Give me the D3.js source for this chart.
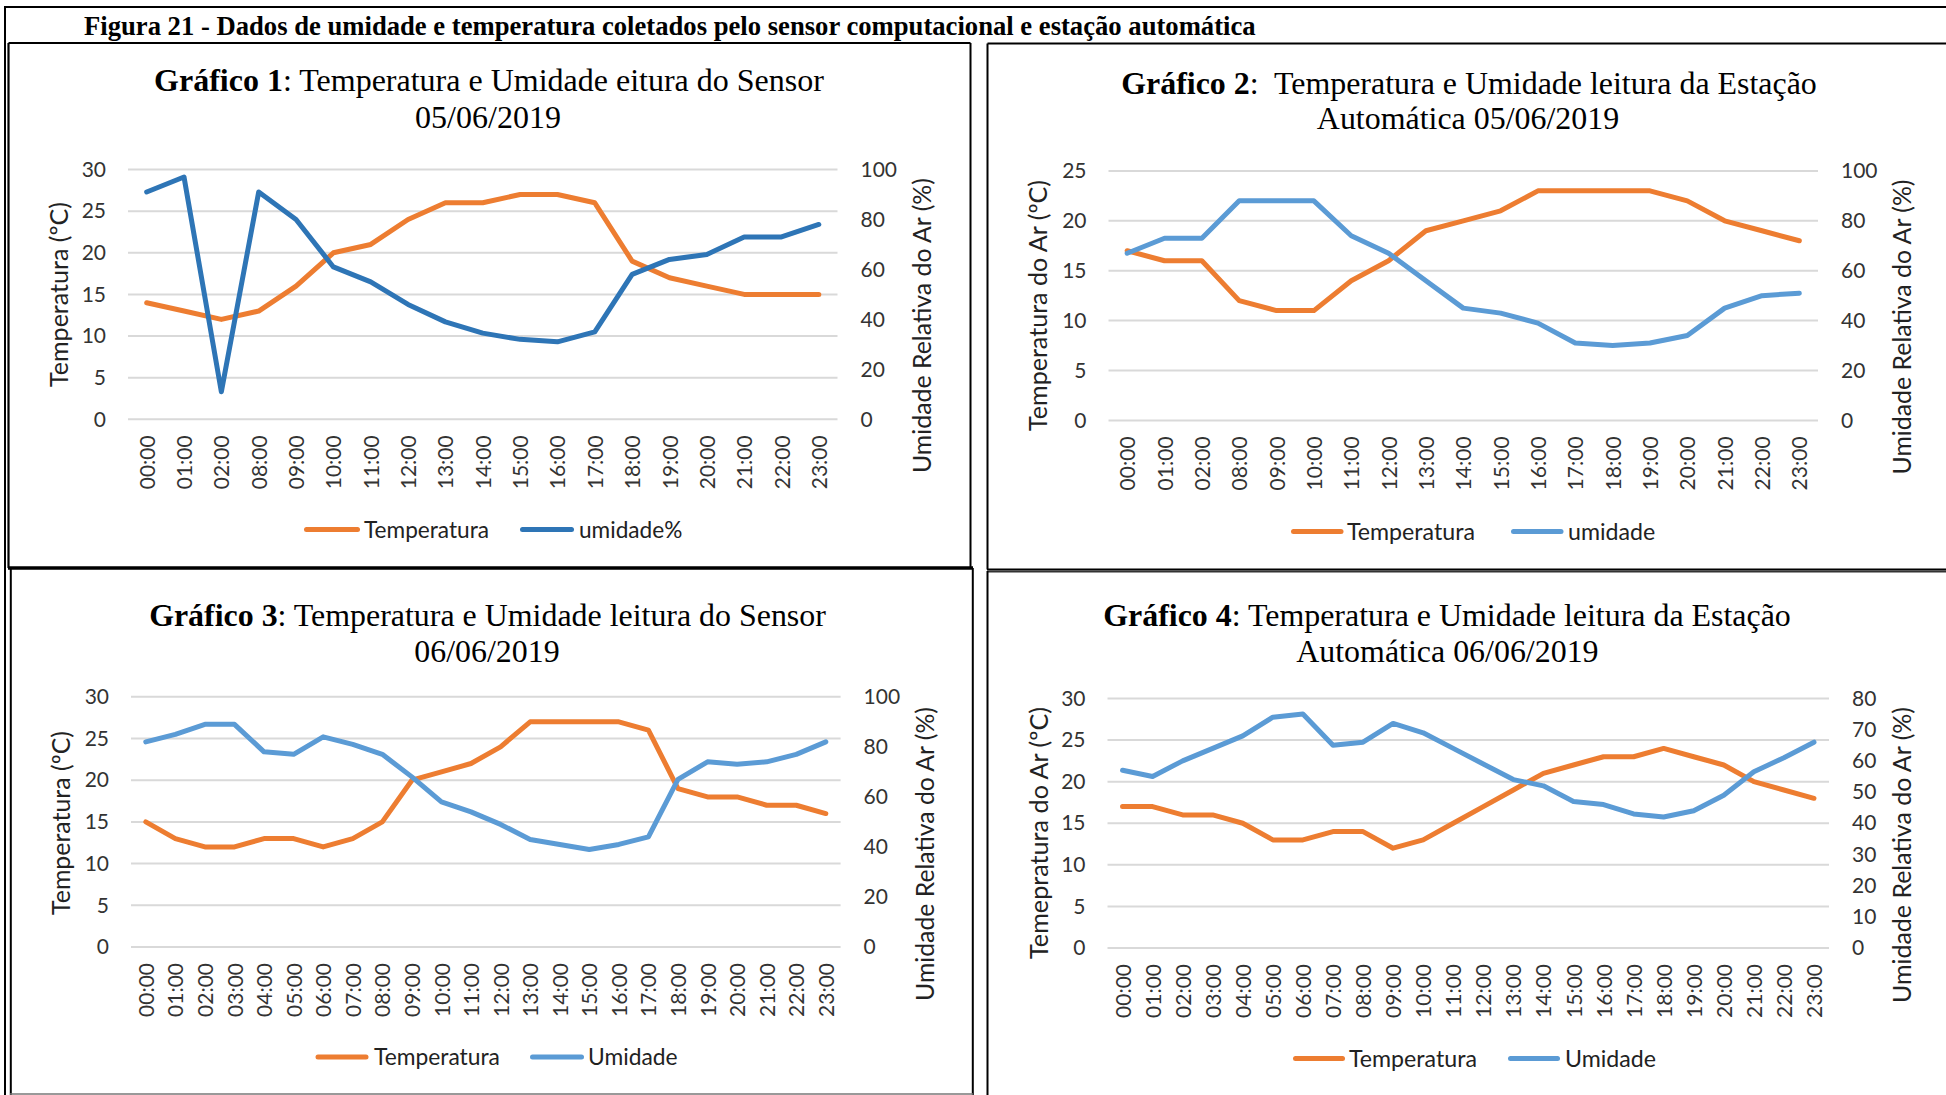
<!DOCTYPE html>
<html><head><meta charset="utf-8">
<script src="https://cdn.jsdelivr.net/npm/d3@7"></script>
<style>body{margin:0;background:#fff}svg{display:block}</style>
</head><body>
<svg id="c" width="1946" height="1095"></svg>
<script>
// ---------------- DATA ----------------
const hoursA = ["00:00","01:00","02:00","08:00","09:00","10:00","11:00","12:00","13:00","14:00","15:00","16:00","17:00","18:00","19:00","20:00","21:00","22:00","23:00"];
const hoursB = ["00:00","01:00","02:00","03:00","04:00","05:00","06:00","07:00","08:00","09:00","10:00","11:00","12:00","13:00","14:00","15:00","16:00","17:00","18:00","19:00","20:00","21:00","22:00","23:00"];

const temp1 = [14,13,12,13,16,20,21,24,26,26,27,27,26,19,17,16,15,15,15];
const hum1  = [91,97,11,91,80,61,55,46,39,34.5,32,31,35,58,64,66,73,73,78];

const temp2 = [17,16,16,12,11,11,14,16,19,20,21,23,23,23,23,22,20,19,18];
const hum2  = [67,73,73,88,88,88,74,67,56,45,43,39,31,30,31,34,45,50,51];

const temp3 = [15,13,12,12,13,13,12,13,15,20,21,22,24,27,27,27,27,26,19,18,18,17,17,16];
const hum3  = [82,85,89,89,78,77,84,81,77,68,58,54,49,43,41,39,41,44,67,74,73,74,77,82];

const temp4 = [17,17,16,16,15,13,13,14,14,12,13,15,17,19,21,22,23,23,24,23,22,20,19,18];
const hum4  = [57,55,60,64,68,74,75,65,66,72,69,64,59,54,52,47,46,43,42,44,49,56.5,61,66];

const leftTicks30 = [0,5,10,15,20,25,30];
const leftTicks25 = [0,5,10,15,20,25];
const rightTicks100 = [0,20,40,60,80,100];
const rightTicks80 = [0,10,20,30,40,50,60,70,80];

const figTitle = "Figura 21 - Dados de umidade e temperatura coletados pelo sensor computacional e estação automática";

// ---------------- LAYOUT ----------------
const ORANGE = "#ED7D31";
const SANS = "Lato, 'Open Sans', sans-serif";
const SERIF = "'Liberation Serif', 'Times New Roman', serif";

const panels = [
 {cats: hoursA, temp: temp1, hum: hum1, blue: "#2E75B6",
  plot:{l:128,r:837.5,t:169.5,b:419.3}, lDom:30, lTicks:leftTicks30, rDom:100, rTicks:rightTicks100,
  tBold:"Gráfico 1", tRest:": Temperatura e Umidade eitura do Sensor", t2:"05/06/2019",
  tCx:489, tW:670, tY1:91, t2Cx:488, tY2:128,
  yL:{text:"Temperatura (ºC)", x:59, cy:294.5, w:185},
  yR:{text:"Umidade Relativa do Ar (%)", x:922, cy:325.6, w:295},
  leg:{y:529.5, o:[306.5,357.5], ot:364, b:[522.5,571.5], bt:579, tw:125, label2:"umidade%"}},
 {cats: hoursA, temp: temp2, hum: hum2, blue: "#5B9BD5",
  plot:{l:1108.5,r:1818,t:170.9,b:420.4}, lDom:25, lTicks:leftTicks25, rDom:100, rTicks:rightTicks100,
  tBold:"Gráfico 2", tRest:":  Temperatura e Umidade leitura da Estação", t2:"Automática 05/06/2019",
  tCx:1469, tW:696, tY1:93.5, t2Cx:1468, tY2:129,
  yL:{text:"Temperatura do Ar (ºC)", x:1038, cy:305.5, w:251},
  yR:{text:"Umidade Relativa do Ar (%)", x:1902, cy:327, w:295},
  leg:{y:531.5, o:[1293.5,1341], ot:1347, b:[1513.5,1561], bt:1568, tw:128, label2:"umidade"}},
 {cats: hoursB, temp: temp3, hum: hum3, blue: "#5B9BD5",
  plot:{l:131,r:840.6,t:696.8,b:947}, lDom:30, lTicks:leftTicks30, rDom:100, rTicks:rightTicks100,
  tBold:"Gráfico 3", tRest:": Temperatura e Umidade leitura do Sensor", t2:"06/06/2019",
  tCx:487.5, tW:677, tY1:625.5, t2Cx:487, tY2:661.5,
  yL:{text:"Temperatura (ºC)", x:60.6, cy:823, w:184},
  yR:{text:"Umidade Relativa do Ar (%)", x:925, cy:854, w:294},
  leg:{y:1057, o:[318,366], ot:374, b:[532.5,581.5], bt:588, tw:126, label2:"Umidade"}},
 {cats: hoursB, temp: temp4, hum: hum4, blue: "#5B9BD5",
  plot:{l:1107.5,r:1829,t:698.5,b:948}, lDom:30, lTicks:leftTicks30, rDom:80, rTicks:rightTicks80,
  tBold:"Gráfico 4", tRest:": Temperatura e Umidade leitura da Estação", t2:"Automática 06/06/2019",
  tCx:1447, tW:688, tY1:625.5, t2Cx:1447.4, tY2:661.5,
  yL:{text:"Temepratura do Ar (ºC)", x:1038.5, cy:833, w:252},
  yR:{text:"Umidade Relativa do Ar (%)", x:1902, cy:855, w:296},
  leg:{y:1058.5, o:[1295.5,1342.5], ot:1349, b:[1510.5,1557.5], bt:1565, tw:128, label2:"Umidade"}}
];

const svg = d3.select("#c");

function fitWidth(sel, target){
  const w = sel.node().getBBox().width;
  const fs = parseFloat(sel.attr("font-size"));
  const nf = fs*target/w;
  sel.attr("font-size", nf);
  return nf;
}

// ---------------- FRAMES ----------------
const frame = svg.append("g").attr("fill","none");
function ln(x1,y1,x2,y2,w,c){ frame.append("line").attr("x1",x1).attr("y1",y1).attr("x2",x2).attr("y2",y2).attr("stroke",c||"#000").attr("stroke-width",w); }
ln(4,7,1946,7,2);          // outer top
ln(5,6,5,1095,2);          // outer left
// panel 1
ln(8.5,43,970.5,43,2); ln(8.5,43,8.5,568,2.2); ln(970.5,43,970.5,568,2); ln(8,568,973,568,3.5);
// panel 2
ln(987.5,43.5,1946,43.5,2); ln(987.5,43.5,987.5,569.5,2); ln(987,569.5,1946,569.5,2);
// panel 3
ln(10.8,568,10.8,1095,2); ln(972.8,568,972.8,1095,2); ln(10,1094,973,1094,1.5,"#777");
// panel 4
ln(987.5,571.5,1946,571.5,2,"#333"); ln(987.5,571,987.5,1095,2);

// ---------------- FIG TITLE ----------------
const ft = svg.append("text").attr("x",84).attr("y",35).attr("font-family",SERIF)
  .attr("font-weight","bold").attr("font-size",24).attr("fill","#000").text(figTitle);
fitWidth(ft, 1172);

// ---------------- PANELS ----------------
panels.forEach(p => {
  const g = svg.append("g");
  const x = d3.scalePoint().domain(p.cats).range([p.plot.l, p.plot.r]).padding(0.5);
  const yL = d3.scaleLinear().domain([0,p.lDom]).range([p.plot.b,p.plot.t]);
  const yR = d3.scaleLinear().domain([0,p.rDom]).range([p.plot.b,p.plot.t]);

  // gridlines
  g.append("g").selectAll("line").data(p.lTicks).join("line")
    .attr("x1",p.plot.l).attr("x2",p.plot.r)
    .attr("y1",d=>yL(d)).attr("y2",d=>yL(d))
    .attr("stroke","#D9D9D9").attr("stroke-width",2);

  // left axis
  const ax1 = g.append("g").attr("transform",`translate(${p.plot.l},0)`)
    .call(d3.axisLeft(yL).tickValues(p.lTicks).tickSize(0).tickPadding(22).tickFormat(d3.format("d")));
  ax1.select(".domain").remove();
  ax1.selectAll("text").attr("font-family",SANS).attr("font-size",21).attr("fill","#333");

  // right axis
  const ax2 = g.append("g").attr("transform",`translate(${p.plot.r},0)`)
    .call(d3.axisRight(yR).tickValues(p.rTicks).tickSize(0).tickPadding(23).tickFormat(d3.format("d")));
  ax2.select(".domain").remove();
  ax2.selectAll("text").attr("font-family",SANS).attr("font-size",21).attr("fill","#333");

  // bottom axis
  const ax3 = g.append("g").attr("transform",`translate(0,${p.plot.b})`)
    .call(d3.axisBottom(x).tickSize(0));
  ax3.select(".domain").remove();
  ax3.selectAll("text").attr("font-family",SANS).attr("font-size",21).attr("fill","#333")
    .attr("transform","rotate(-90)").attr("x",-16).attr("y",0).attr("dy","0.36em")
    .attr("text-anchor","end");

  // lines
  const lineT = d3.line().x((d,i)=>x(p.cats[i])).y(d=>yL(d));
  const lineH = d3.line().x((d,i)=>x(p.cats[i])).y(d=>yR(d));
  g.append("path").datum(p.temp).attr("d",lineT).attr("fill","none")
    .attr("stroke",ORANGE).attr("stroke-width",5).attr("stroke-linejoin","round").attr("stroke-linecap","round");
  g.append("path").datum(p.hum).attr("d",lineH).attr("fill","none")
    .attr("stroke",p.blue).attr("stroke-width",5).attr("stroke-linejoin","round").attr("stroke-linecap","round");

  // title
  const t1 = g.append("text").attr("x",p.tCx).attr("y",p.tY1).attr("text-anchor","middle")
    .attr("font-family",SERIF).attr("font-size",30).attr("fill","#000").style("white-space","pre");
  t1.append("tspan").attr("font-weight","bold").text(p.tBold);
  t1.append("tspan").text(p.tRest);
  const fs = fitWidth(t1, p.tW);
  g.append("text").attr("x",p.t2Cx).attr("y",p.tY2).attr("text-anchor","middle")
    .attr("font-family",SERIF).attr("font-size",fs).attr("fill","#000").text(p.t2);

  // axis titles
  const at1 = g.append("text").attr("transform",`translate(${p.yL.x},${p.yL.cy}) rotate(-90)`)
    .attr("text-anchor","middle").attr("dy","0.36em").attr("font-family",SANS).attr("font-size",22)
    .attr("fill","#222").text(p.yL.text);
  fitWidth(at1, p.yL.w);
  const at2 = g.append("text").attr("transform",`translate(${p.yR.x},${p.yR.cy}) rotate(-90)`)
    .attr("text-anchor","middle").attr("dy","0.36em").attr("font-family",SANS).attr("font-size",22)
    .attr("fill","#222").text(p.yR.text);
  fitWidth(at2, p.yR.w);

  // legend
  const L = p.leg;
  g.append("line").attr("x1",L.o[0]).attr("x2",L.o[1]).attr("y1",L.y).attr("y2",L.y)
    .attr("stroke",ORANGE).attr("stroke-width",5).attr("stroke-linecap","round");
  g.append("line").attr("x1",L.b[0]).attr("x2",L.b[1]).attr("y1",L.y).attr("y2",L.y)
    .attr("stroke",p.blue).attr("stroke-width",5).attr("stroke-linecap","round");
  const lt1 = g.append("text").attr("x",L.ot).attr("y",L.y).attr("dy","0.36em")
    .attr("font-family",SANS).attr("font-size",21).attr("fill","#222").text("Temperatura");
  const lfs = fitWidth(lt1, L.tw);
  g.append("text").attr("x",L.bt).attr("y",L.y).attr("dy","0.36em")
    .attr("font-family",SANS).attr("font-size",lfs).attr("fill","#222").text(L.label2);
});
</script>
</body></html>
